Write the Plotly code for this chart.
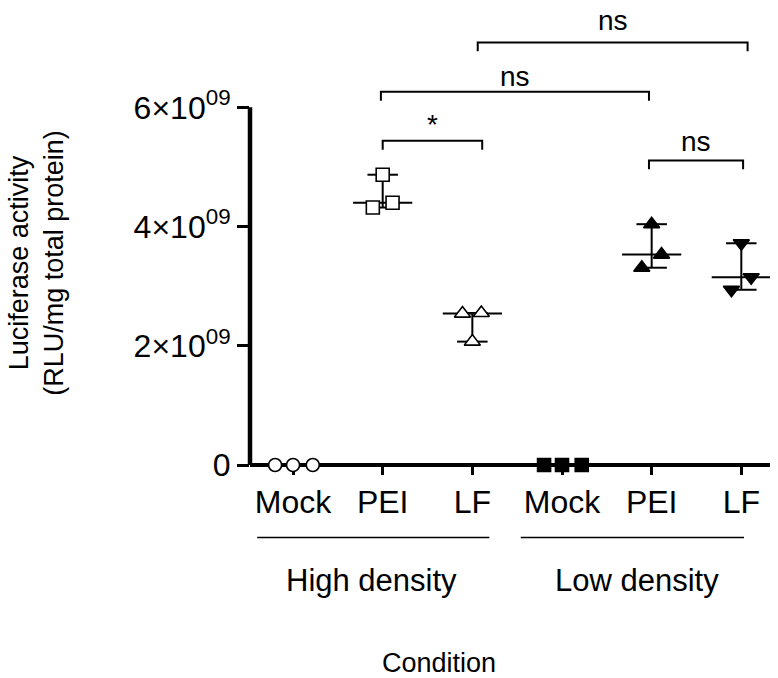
import numpy as np
import plotly.graph_objects as go

# ---- data -------------------------------------------------------------
categories = ["Mock", "PEI", "LF", "Mock", "PEI", "LF"]
groups = ["High density", "Low density"]

high_mock = [0.0, 0.0, 0.0]
high_pei = [4.87e9, 4.32e9, 4.40e9]
high_lf = [2.54e9, 2.55e9, 2.07e9]
low_mock = [0.0, 0.0, 0.0]
low_pei = [4.04e9, 3.53e9, 3.31e9]
low_lf = [3.72e9, 3.15e9, 2.94e9]

y_tick_values = [0, 2e9, 4e9, 6e9]
y_tick_labels = ["0", "2×10<sup>09</sup>", "4×10<sup>09</sup>", "6×10<sup>09</sup>"]

# pairwise comparisons: (first column, second column, label)
comparisons = [
    (1, 2, "*"),
    (1, 4, "ns"),
    (2, 5, "ns"),
    (4, 5, "ns"),
]

# ---- layout helpers ---------------------------------------------------
FONT = "Liberation Sans, Arial, Helvetica, sans-serif"
BLACK = "black"
Y_RANGE = [0, 7.6e9]

series = [high_mock, high_pei, high_lf, low_mock, low_pei, low_lf]
# horizontal scatter of the replicate points within a column
jitter = [
    [-0.20, 0.0, 0.22],
    [0.0, -0.11, 0.11],
    [-0.11, 0.10, 0.0],
    [-0.20, 0.0, 0.22],
    [0.0, 0.11, -0.11],
    [0.0, 0.11, -0.11],
]
symbols = ["circle", "square", "triangle-up", "square", "triangle-up", "triangle-down"]
fills = ["white", "white", "white", BLACK, BLACK, BLACK]
sizes = [13, 13, 14, 13, 14, 14]

# bracket placement: height of the bar, end nudges, label height
bracket_y = [5.44e9, 6.26e9, 7.09e9, 5.11e9]
bracket_nudge = [(0.0, 0.11), (-0.02, -0.03), (0.06, 0.07), (-0.03, 0.02)]
label_y = [5.71e9, 6.51e9, 7.45e9, 5.42e9]
tick_drop = 0.15e9

x_pos = np.arange(1, len(categories) + 1)

fig = go.Figure()

# median with range for each column
for xc, vals in zip(x_pos, series):
    v = np.asarray(vals)
    med, lo, hi = np.median(v), v.min(), v.max()
    xs = [xc - 0.33, xc + 0.33, None,
          xc, xc, None,
          xc - 0.17, xc + 0.17, None,
          xc - 0.17, xc + 0.17]
    ys = [med, med, None,
          lo, hi, None,
          lo, lo, None,
          hi, hi]
    fig.add_trace(go.Scatter(
        x=xs, y=ys, mode="lines",
        line=dict(color=BLACK, width=2),
        hoverinfo="skip", showlegend=False,
    ))

# replicate points
for xc, vals, jit, sym, fill, sz in zip(x_pos, series, jitter, symbols, fills, sizes):
    fig.add_trace(go.Scatter(
        x=[xc + j for j in jit], y=vals, mode="markers",
        marker=dict(symbol=sym, size=sz, color=fill,
                    line=dict(color=BLACK, width=1.6)),
        cliponaxis=False, showlegend=False,
    ))

shapes = []
annotations = []

# axis lines (paper-referenced so they are not clipped at the plot edge)
shapes.append(dict(type="line", xref="paper", yref="paper",
                   x0=0, x1=1, y0=0, y1=0,
                   line=dict(color=BLACK, width=4), layer="below"))
shapes.append(dict(type="line", xref="paper", yref="paper",
                   x0=0, x1=0, y0=0,
                   y1=(y_tick_values[-1] - Y_RANGE[0]) / (Y_RANGE[1] - Y_RANGE[0]),
                   line=dict(color=BLACK, width=4.5), layer="above"))

# significance brackets
for (a, b, lab), yb, (n0, n1), yl in zip(comparisons, bracket_y, bracket_nudge, label_y):
    xa = x_pos[a] + n0
    xb = x_pos[b] + n1
    shapes.append(dict(type="path", xref="x", yref="y",
                       path=f"M {xa},{yb - tick_drop} L {xa},{yb} L {xb},{yb} L {xb},{yb - tick_drop}",
                       line=dict(color=BLACK, width=2)))
    annotations.append(dict(x=(xa + xb) / 2, y=yl, xref="x", yref="y",
                            text=lab, showarrow=False,
                            xanchor="center", yanchor="middle",
                            font=dict(family=FONT, size=28, color=BLACK)))

# group underlines and labels
group_spans = [(0.60, 3.19), (3.54, 6.03)]
group_label_x = [1.88, 4.84]
for (g0, g1), gx, name in zip(group_spans, group_label_x, groups):
    shapes.append(dict(type="line", xref="x", yref="paper",
                       x0=g0, x1=g1, y0=-0.16, y1=-0.16,
                       line=dict(color=BLACK, width=1.5)))
    annotations.append(dict(x=gx, y=-0.255, xref="x", yref="paper",
                            text=name, showarrow=False,
                            xanchor="center", yanchor="middle",
                            font=dict(family=FONT, size=31, color=BLACK)))

# axis titles
annotations.append(dict(x=0.363, y=-0.436, xref="paper", yref="paper",
                        text="Condition", showarrow=False,
                        xanchor="center", yanchor="middle",
                        font=dict(family=FONT, size=27, color=BLACK)))
annotations.append(dict(x=-0.41, y=0.446, xref="paper", yref="paper",
                        text="Luciferase activity<br>(RLU/mg total protein)",
                        showarrow=False, textangle=-90,
                        xanchor="center", yanchor="middle",
                        font=dict(family=FONT, size=27, color=BLACK)))

fig.update_layout(
    width=778, height=678,
    margin=dict(l=250, r=8, t=12, b=213),
    paper_bgcolor="white", plot_bgcolor="white",
    font=dict(family=FONT, color=BLACK),
    shapes=shapes, annotations=annotations,
    showlegend=False,
    xaxis=dict(
        range=[0.52, 6.32], tickmode="array",
        tickvals=list(x_pos), ticktext=categories,
        ticks="outside", ticklen=9, tickwidth=3, tickcolor=BLACK,
        showline=False, showgrid=False, zeroline=False,
        tickfont=dict(family=FONT, size=32, color=BLACK),
        layer="below traces",
    ),
    yaxis=dict(
        range=Y_RANGE, tickmode="array",
        tickvals=y_tick_values, ticktext=y_tick_labels,
        ticks="outside", ticklen=12, tickwidth=3, tickcolor=BLACK,
        showline=False, showgrid=False, zeroline=False,
        tickfont=dict(family=FONT, size=32, color=BLACK),
    ),
)

fig.write_html("out.html")
